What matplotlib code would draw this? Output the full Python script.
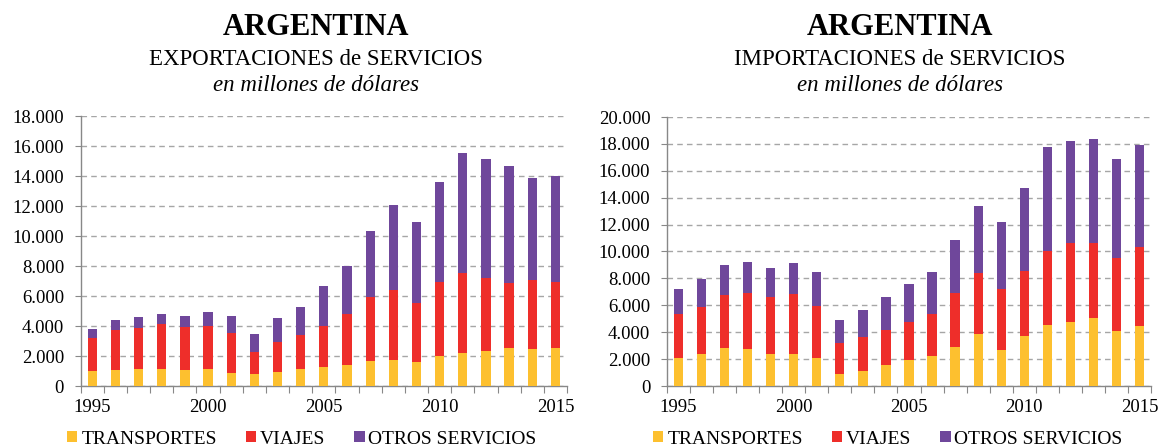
import numpy as np
import matplotlib
matplotlib.use('Agg')
import matplotlib.pyplot as plt
from matplotlib.ticker import FuncFormatter

# data, millions of USD
years = list(range(1995, 2016))
exp_transportes = [1000, 1090, 1160, 1160, 1090, 1160, 890, 780, 960, 1160, 1270,
                   1380, 1640, 1760, 1580, 2020, 2200, 2330, 2510, 2470, 2510]
exp_viajes = [2220, 2620, 2730, 2980, 2870, 2860, 2620, 1490, 2000, 2220, 2760,
              3400, 4310, 4640, 3930, 4930, 5310, 4870, 4330, 4620, 4400]
exp_otros = [600, 670, 690, 690, 730, 930, 1130, 1220, 1560, 1890, 2620,
             3240, 4380, 5690, 5450, 6620, 8020, 7960, 7800, 6760, 7110]

imp_transportes = [2110, 2380, 2800, 2730, 2380, 2380, 2110, 920, 1120, 1540, 1960,
                   2230, 2930, 3900, 2660, 3700, 4520, 4740, 5060, 4120, 4440]
imp_viajes = [3270, 3520, 3950, 4220, 4220, 4440, 3870, 2280, 2510, 2660, 2780,
              3150, 3970, 4520, 4520, 4840, 5530, 5880, 5560, 5410, 5910]
imp_otros = [1840, 2040, 2230, 2280, 2160, 2360, 2510, 1740, 2010, 2410, 2850,
             3100, 3950, 4990, 5040, 6180, 7720, 7570, 7770, 7340, 7570]

series_names = ['TRANSPORTES', 'VIAJES', 'OTROS SERVICIOS']
colors = ['#FDC02F', '#EE2E2A', '#6F479B']

plt.rcParams['font.family'] = ['Liberation Serif', 'DejaVu Serif']

W, H = 1160, 448
fig = plt.figure(figsize=(W / 100, H / 100), dpi=100)


def px_axes(x0, x1, ytop, ybot):
    return fig.add_axes([x0 / W, 1 - ybot / H, (x1 - x0) / W, (ybot - ytop) / H])


def draw_panel(ax, data, ymax, title_sub, cx):
    x = np.arange(len(years))
    bottom = np.zeros(len(years))
    for vals, col, name in zip(data, colors, series_names):
        ax.bar(x, vals, 0.4, bottom=bottom, color=col, label=name, zorder=3)
        bottom += np.array(vals)

    ax.set_xlim(-0.5, len(years) - 0.5)
    ax.set_ylim(0, ymax)
    ax.set_yticks(np.arange(0, ymax + 1, 2000))
    ax.yaxis.set_major_formatter(FuncFormatter(lambda v, p: f"{int(v):,}".replace(",", ".")))
    ax.grid(axis='y', color='#A6A6A6', linestyle=(0, (4, 3)), linewidth=1, zorder=0)

    # tick marks on category boundaries, year labels on bar centres
    ax.set_xticks(np.arange(-0.5, len(years), 1))
    ax.set_xticklabels([])
    lab_pos = [i for i, y in enumerate(years) if y % 5 == 0]
    ax.set_xticks(lab_pos, minor=True)
    ax.set_xticklabels([str(years[i]) for i in lab_pos], minor=True)
    ax.tick_params(axis='x', which='major', length=5, color='#888888', direction='out')
    ax.tick_params(axis='x', which='minor', length=0, pad=9, labelsize=13.5)
    ax.tick_params(axis='y', length=4, color='#888888', pad=8, labelsize=13.5)

    for s in ['top', 'right']:
        ax.spines[s].set_visible(False)
    for s in ['left', 'bottom']:
        ax.spines[s].set_color('#888888')
        ax.spines[s].set_linewidth(1)

    fig.text(cx / W, 1 - 35 / H, 'ARGENTINA', ha='center', va='baseline',
             fontsize=22, fontweight='bold')
    fig.text(cx / W, 1 - 65 / H, title_sub, ha='center', va='baseline', fontsize=16.5)
    fig.text(cx / W, 1 - 91 / H, 'en millones de dólares', ha='center', va='baseline',
             fontsize=16.5, style='italic')


ax1 = px_axes(80.7, 567, 116, 386)
ax2 = px_axes(667, 1151, 117, 386)

draw_panel(ax1, [exp_transportes, exp_viajes, exp_otros], 18000,
           'EXPORTACIONES de SERVICIOS', 316)
draw_panel(ax2, [imp_transportes, imp_viajes, imp_otros], 20000,
           'IMPORTACIONES de SERVICIOS', 900)

for ax, cx in [(ax1, 302), (ax2, 888)]:
    ax.legend(loc='center', bbox_to_anchor=(cx / W, 1 - 439 / H),
              bbox_transform=fig.transFigure, ncol=3, frameon=False,
              fontsize=14, handlelength=0.52, handleheight=0.52,
              handletextpad=0.2, columnspacing=1.5, borderpad=0)

fig.savefig('out.png', dpi=100)
